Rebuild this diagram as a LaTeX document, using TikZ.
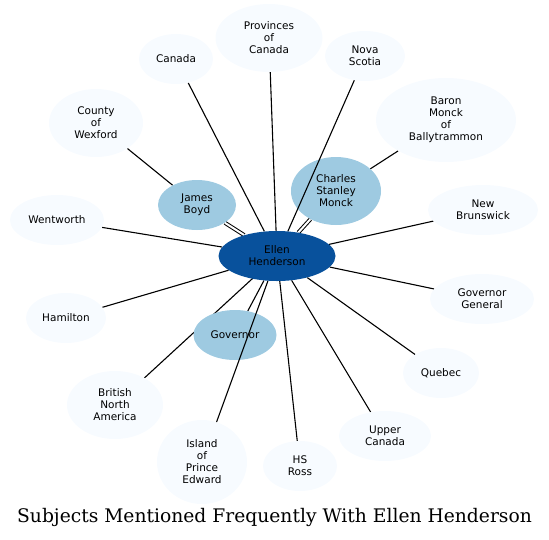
\documentclass[tikz,border=0pt]{standalone}
\usepackage{fontspec}
\setmainfont{DejaVu Sans}
\newfontfamily\titlefont{DejaVu Serif}
\usetikzlibrary{shapes.geometric,backgrounds}
\definecolor{hub}{HTML}{08519C}
\definecolor{mid}{HTML}{9ECAE1}
\definecolor{outer}{HTML}{F7FBFF}
\tikzset{
  bub/.style={ellipse, inner sep=0pt, align=center, font=\fontsize{10.5}{12}\selectfont, text=black},
  hubnode/.style={bub, fill=hub},
  midnode/.style={bub, fill=mid},
  outnode/.style={bub, fill=outer},
  link/.style={draw=black, line width=1.1pt},
  dlink/.style={draw=black, line width=1pt, double=white, double distance=2pt},
}
\begin{document}
\begin{tikzpicture}[x=1pt,y=-1pt]
\useasboundingbox (0,0) rectangle (549,539);
% nodes
\node[hubnode, minimum width=117pt, minimum height=50pt] (ellen) at (277,256) {Ellen\\Henderson};
\node[midnode, minimum width=78pt, minimum height=50pt] (james) at (197,205) {James\\Boyd};
\node[midnode, minimum width=90pt, minimum height=68pt] (charles) at (336,191) {Charles\\Stanley\\Monck};
\node[midnode, minimum width=83pt, minimum height=50pt] (governor) at (235,335) {Governor};
\node[outnode, minimum width=74pt, minimum height=50pt] (canada) at (176,59) {Canada};
\node[outnode, minimum width=107pt, minimum height=68pt] (provinces) at (269,38) {Provinces\\of\\Canada};
\node[outnode, minimum width=80pt, minimum height=50pt] (nova) at (365,56) {Nova\\Scotia};
\node[outnode, minimum width=140pt, minimum height=84pt] (baron) at (446,120) {Baron\\Monck\\of\\Ballytrammon};
\node[outnode, minimum width=94pt, minimum height=68pt] (wexford) at (96,123) {County\\of\\Wexford};
\node[outnode, minimum width=94pt, minimum height=50pt] (wentworth) at (57,220) {Wentworth};
\node[outnode, minimum width=110pt, minimum height=50pt] (brunswick) at (483,210) {New\\Brunswick};
\node[outnode, minimum width=104pt, minimum height=50pt] (gg) at (482,299) {Governor\\General};
\node[outnode, minimum width=80pt, minimum height=50pt] (hamilton) at (66,318) {Hamilton};
\node[outnode, minimum width=76pt, minimum height=50pt] (quebec) at (441,373) {Quebec};
\node[outnode, minimum width=96pt, minimum height=68pt] (bna) at (115,405) {British\\North\\America};
\node[outnode, minimum width=92pt, minimum height=50pt] (upper) at (385,436) {Upper\\Canada};
\node[outnode, minimum width=74pt, minimum height=50pt] (ross) at (300,466) {HS\\Ross};
\node[outnode, minimum width=90pt, minimum height=84pt] (island) at (202,462) {Island\\of\\Prince\\Edward};
% edges behind nodes
\begin{pgfonlayer}{background}
\draw[link] (ellen) -- (canada);
\draw[link] (ellen) -- (provinces);
\draw[dlink] (ellen) -- (james);
\draw[dlink] (ellen) -- (charles);
\draw[link] (ellen) -- (wentworth);
\draw[link] (ellen) -- (brunswick);
\draw[link] (ellen) -- (gg);
\draw[link] (ellen) -- (hamilton);
\draw[link] (ellen) -- (quebec);
\draw[link] (ellen.center) -- (bna);
\draw[link] (ellen) -- (upper);
\draw[link] (ellen) -- (ross);
\draw[link] (ellen) -- (governor);
\draw[link] (james) -- (wexford);
\draw[link] (charles) -- (baron);
\end{pgfonlayer}
% edges drawn over nodes
\draw[link] (ellen) -- (nova);
\draw[link] (ellen) -- (island);
% title
\node (title) at (274.5,517) {\titlefont\fontsize{18.7}{22}\selectfont Subjects Mentioned Frequently With Ellen Henderson};
\end{tikzpicture}
\end{document}
